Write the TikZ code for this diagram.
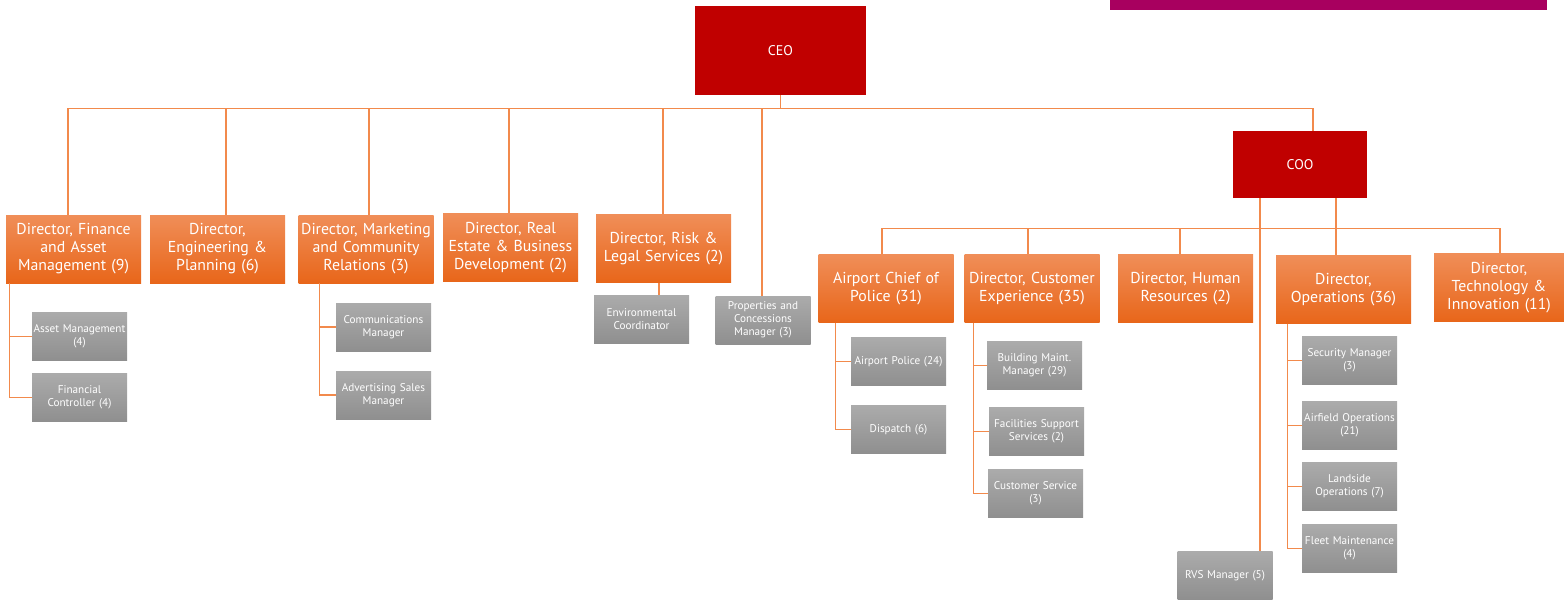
\documentclass[tikz,border=0pt]{standalone}
\usepackage{fontspec}
\setmainfont{PT Sans}
\usetikzlibrary{positioning}
\usetikzlibrary{calc}
\definecolor{chief red}{HTML}{C00000}
\definecolor{banner}{HTML}{A8005F}
\definecolor{orange top}{HTML}{F08E58}
\definecolor{orange bottom}{HTML}{E8661A}
\definecolor{grey top}{HTML}{ABABAB}
\definecolor{grey bottom}{HTML}{8F8F8F}
\definecolor{link orange}{HTML}{F28A4C}
\tikzset{
    % Thin orange lines joining the boxes
    link/.style={draw=link orange, line width=1.2pt},
%
    % Solid red boxes for the two chiefs
    chief/.style={fill=chief red, text=white, inner sep=0,
        font=\fontsize{14}{16}\selectfont},
%
    % Orange shaded boxes for the directors
    director/.style={top color=orange top, bottom color=orange bottom,
        text=white, inner sep=0, align=center, text width=134pt,
        minimum width=135pt, minimum height=68pt,
        font=\fontsize{15.8}{18}\selectfont},
%
    % Small grey shaded boxes for the managers
    manager/.style={top color=grey top, bottom color=grey bottom,
        text=white, inner sep=0, align=center, text width=95pt,
        minimum width=95pt, minimum height=48pt,
        font=\fontsize{11.2}{13}\selectfont}}

\begin{document}
\begin{tikzpicture}[x=1pt, y=-1pt]
\useasboundingbox (0,0) rectangle (1564,600);

% Banner strip along the top edge
\fill[banner] (1110,0) rectangle (1547,10);

% The two chiefs
\path
    node[chief, minimum width=171pt, minimum height=89pt]
        (ceo) at (780.5,50.5) {CEO}
    node[chief, minimum width=134pt, minimum height=67pt]
        (coo) at (1300,164.5) {COO};

% Directors reporting to the CEO
\path
    node[director] (finance) at (73.5,249)
        {Director, Finance\\and Asset\\Management (9)}
    node[director] (engineering) at (217.5,249)
        {Director,\\Engineering \&\\Planning (6)}
    node[director] (marketing) at (366,249)
        {Director, Marketing\\and Community\\Relations (3)}
    node[director] (realestate) at (510.5,247.5)
        {Director, Real\\Estate \& Business\\Development (2)}
    node[director] (risk) at (663.5,248.5)
        {Director, Risk \&\\Legal Services (2)}
    node[manager] (properties) at (763,320)
        {Properties and\\Concessions\\Manager (3)};

% Directors reporting to the COO
\path
    node[director] (police) at (886,288.5)
        {Airport Chief of\\Police (31)}
    node[director] (custexp) at (1032,288.5)
        {Director, Customer\\Experience (35)}
    node[director] (hr) at (1185.5,288.5)
        {Director, Human\\Resources (2)}
    node[director] (operations) at (1343.5,289.5)
        {Director,\\Operations (36)}
    node[director, minimum width=130pt, text width=130pt]
        (technology) at (1499,287.5)
        {Director,\\Technology \&\\Innovation (11)}
    node[manager] (rvs) at (1225,575.5) {RVS Manager (5)};

% Managers under the directors
\path
    node[manager] (assetmgmt) at (79.5,336.5) {Asset Management\\(4)}
    node[manager] (fincontrol) at (79.5,397.5) {Financial\\Controller (4)}
    node[manager] (comms) at (383.5,327) {Communications\\Manager}
    node[manager] (advert) at (383.5,395) {Advertising Sales\\Manager}
    node[manager] (environ) at (641.5,319.5) {Environmental\\Coordinator}
    node[manager] (airpolice) at (898.5,361.5) {Airport Police (24)}
    node[manager] (dispatch) at (898.5,429.5) {Dispatch (6)}
    node[manager] (building) at (1034.5,365.5) {Building Maint.\\Manager (29)}
    node[manager] (facilities) at (1036.5,431.5)
        {Facilities Support\\Services (2)}
    node[manager] (custservice) at (1035.5,493.5) {Customer Service\\(3)}
    node[manager] (security) at (1349.5,360.5) {Security Manager\\(3)}
    node[manager] (airfield) at (1349.5,425.5) {Airfield Operations\\(21)}
    node[manager] (landside) at (1349.5,486.5) {Landside\\Operations (7)}
    node[manager] (fleet) at (1349.5,548.5) {Fleet Maintenance\\(4)};

% CEO bus down to each report
\foreach \kid/\dx in {finance/-5.5, engineering/8.5, marketing/3,
        realestate/-1.5, risk/-0.5, properties/-1, coo/13}
    \draw[link] (ceo.south) -- ++(0,13) -| ([xshift=\dx pt]\kid.north);

% COO bus down to each report
\coordinate (coo bus) at ($([xshift=-7.5pt]operations.north |- coo.south)+(0,30)$);
\draw[link] (coo bus |- coo.south) -- (coo bus);
\foreach \kid/\dx in {police/-4, custexp/-4, hr/-5.5,
        operations/-7.5, technology/1}
    \draw[link] (coo bus) -| ([xshift=\dx pt]\kid.north);
\draw[link] ([xshift=-40pt]coo.south) -- ([xshift=35pt]rvs.north);

% Side branches to the managers
\foreach \kid in {assetmgmt,fincontrol}
    \draw[link] ([xshift=4pt]finance.south west) |- (\kid.west);
\foreach \kid in {comms,advert}
    \draw[link] ([xshift=21pt]marketing.south west) |- (\kid.west);
\foreach \kid in {airpolice,dispatch}
    \draw[link] ([xshift=17pt]police.south west) |- (\kid.west);
\foreach \kid in {building,facilities,custservice}
    \draw[link] ([xshift=9pt]custexp.south west) |- (\kid.west);
\foreach \kid in {security,airfield,landside,fleet}
    \draw[link] ([xshift=12pt]operations.south west) |- (\kid.west);
\draw[link] ([xshift=-4.5pt]risk.south) -- ([xshift=17.5pt]environ.north);

\end{tikzpicture}
\end{document}
